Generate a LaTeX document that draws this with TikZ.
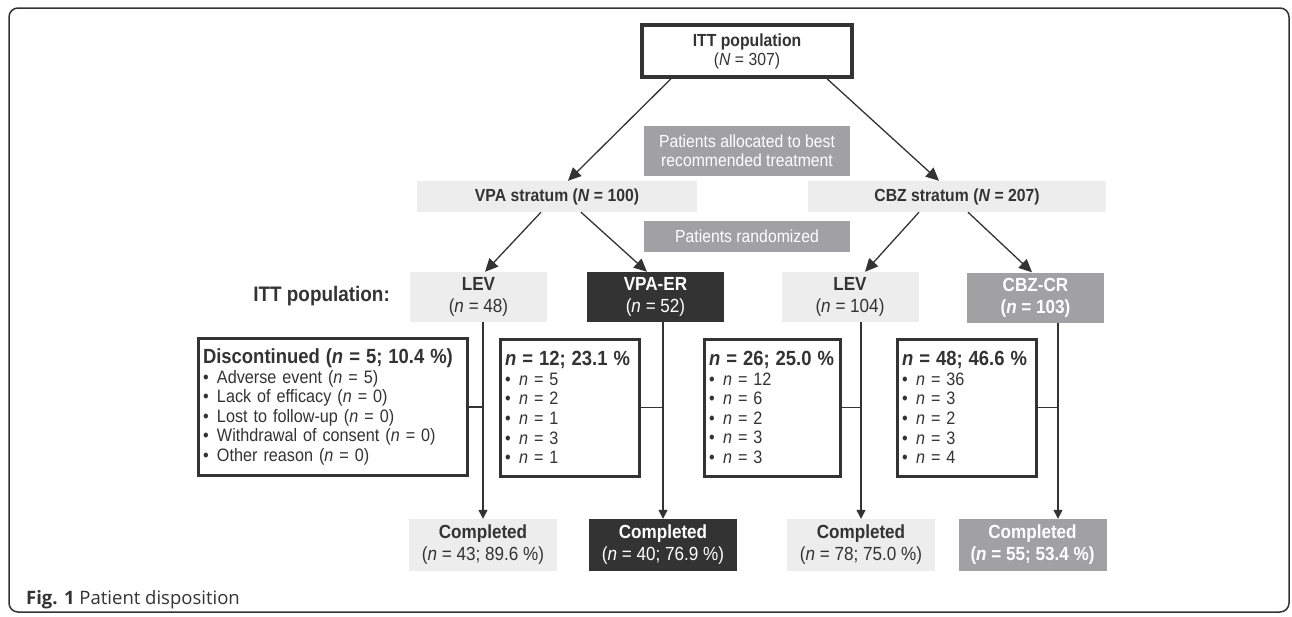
\documentclass[tikz,border=0pt]{standalone}
\usepackage{fontspec}
\setmainfont{Liberation Sans}[FakeStretch=0.9]
\newfontfamily\capfont{Open Sans}
\usetikzlibrary{arrows.meta}
\definecolor{dark}{HTML}{333333}
\definecolor{light}{HTML}{EDEDED}
\definecolor{medium}{HTML}{A1A1A4}
\newcommand{\nn}{\textit{n}}
\newcommand{\NN}{\textit{N}}
\newcommand{\bul}{\makebox[14pt][l]{\textbullet}}
\newcommand{\headline}[1]{\mbox{\fontsize{20.5}{22}\selectfont\bfseries #1}}
\tikzstyle{arm}=[minimum width=137pt, minimum height=50pt, align=center, inner sep=0pt, font=\fontsize{19}{22}\selectfont]
\tikzset{lev/.style={arm, fill=light, text=dark}}
\tikzset{vpa/.style={arm, fill=dark, text=white}}
\tikzset{cbz/.style={arm, fill=medium, text=white, font=\fontsize{19}{22}\selectfont\bfseries}}
\tikzset{done/.style={minimum width=148pt, minimum height=52pt}}
\tikzset{stratum/.style={fill=light, text=dark, minimum height=31pt, inner sep=0pt, font=\fontsize{17.5}{19}\selectfont\bfseries}}
\tikzset{note/.style={fill=medium, text=white, minimum width=206pt, inner sep=0pt, align=center, font=\fontsize{17.5}{19}\selectfont}}
\tikzset{reasons/.style={draw=dark, line width=3pt, fill=white, text=dark, align=left, inner xsep=5pt, inner ysep=0pt, minimum height=137pt, font=\fontsize{18}{19.6}\selectfont}}
\tikzset{split/.style={line width=1.3pt, draw=dark, -{Triangle[length=13pt,width=12pt]}}}
\tikzset{flow/.style={line width=1.3pt, draw=dark, -{Triangle[length=9pt,width=9pt]}}}
\tikzset{side/.style={line width=1.3pt, draw=dark}}

\begin{document}
\begin{tikzpicture}[x=1pt,y=-1pt]
  \useasboundingbox (0,0) rectangle (1292,616);
  \draw[dark, line width=1.5pt, rounded corners=9pt] (9,8) rectangle (1289,612);

  \draw (747,51) node[draw=dark, line width=3.5pt, fill=white, text=dark, minimum width=210pt, minimum height=52pt, inner sep=0pt, align=center, font=\fontsize{17.5}{19}\selectfont] (itt) {\textbf{ITT population}\\(\NN{} = 307)};
  \draw (747,151) node[note, minimum height=50pt] (alloc) {Patients allocated to best\\recommended treatment};
  \draw (557,196.5) node[stratum, minimum width=280pt] (vpas) {VPA stratum (\NN{} = 100)};
  \draw (957,196.5) node[stratum, minimum width=298pt] (cbzs) {CBZ stratum (\NN{} = 207)};
  \draw (747,236.5) node[note, minimum height=31pt] (rand) {Patients randomized};

  \draw (390,296) node[anchor=east, inner sep=0pt, text=dark, font=\fontsize{21}{22}\selectfont\bfseries] (label) {ITT population:};
  \draw (478.5,297) node[lev] (lev1) {\textbf{LEV}\\(\nn{} = 48)};
  \draw (655.5,297) node[vpa] (vpaer) {\textbf{VPA-ER}\\(\nn{} = 52)};
  \draw (850,297) node[lev] (lev2) {\textbf{LEV}\\(\nn{} = 104)};
  \draw (1035.5,297.5) node[cbz] (cbzcr) {CBZ-CR\\(\nn{} = 103)};

  \draw (332.5,407) node[reasons, text width=259pt] (disc) {\headline{Discontinued (\nn{} = 5; 10.4 \%)}\\
    \bul Adverse event (\nn{} = 5)\\
    \bul Lack of efficacy (\nn{} = 0)\\
    \bul Lost to follow-up (\nn{} = 0)\\
    \bul Withdrawal of consent (\nn{} = 0)\\
    \bul Other reason (\nn{} = 0)};
  \draw (569.5,407.5) node[reasons, text width=129pt] (b12) {\headline{\nn{} = 12; 23.1 \%}\\
    \bul\nn{} = 5\\ \bul\nn{} = 2\\ \bul\nn{} = 1\\ \bul\nn{} = 3\\ \bul\nn{} = 1};
  \draw (772,407.5) node[reasons, text width=126pt] (b26) {\headline{\nn{} = 26; 25.0 \%}\\
    \bul\nn{} = 12\\ \bul\nn{} = 6\\ \bul\nn{} = 2\\ \bul\nn{} = 3\\ \bul\nn{} = 3};
  \draw (966.5,407.5) node[reasons, text width=129pt] (b48) {\headline{\nn{} = 48; 46.6 \%}\\
    \bul\nn{} = 36\\ \bul\nn{} = 3\\ \bul\nn{} = 2\\ \bul\nn{} = 3\\ \bul\nn{} = 4};

  \draw (483,545) node[lev, done] (c1) {\textbf{Completed}\\(\nn{} = 43; 89.6 \%)};
  \draw (663,545) node[vpa, done] (c2) {\textbf{Completed}\\(\nn{} = 40; 76.9 \%)};
  \draw (861,545) node[lev, done] (c3) {\textbf{Completed}\\(\nn{} = 78; 75.0 \%)};
  \draw (1032.5,545) node[cbz, done] (c4) {Completed\\(\nn{} = 55; 53.4 \%)};

  %% Allocation and randomization
  \draw[split] ([xshift=-76pt]itt.south) -- ([xshift=11pt]vpas.north);
  \draw[split] ([xshift=80pt]itt.south) -- ([xshift=-18pt]cbzs.north);
  \draw[split] ([xshift=-16pt]vpas.south) -- ([xshift=6.5pt]lev1.north);
  \draw[split] ([xshift=24pt]vpas.south) -- ([xshift=-8.5pt]vpaer.north);
  \draw[split] ([xshift=-38pt]cbzs.south) -- ([xshift=15pt]lev2.north);
  \draw[split] ([xshift=11pt]cbzs.south) -- ([xshift=-3.5pt]cbzcr.north);

  %% Follow-up
  \coordinate (t1) at (lev1.south -| c1.north);
  \coordinate (t2) at (vpaer.south -| c2.north);
  \coordinate (t3) at (lev2.south -| c3.north);
  \coordinate (t4) at ([xshift=25.5pt]c4.north |- cbzcr.south);
  \draw[flow] (t1) -- (c1.north);
  \draw[flow] (t2) -- (c2.north);
  \draw[flow] (t3) -- (c3.north);
  \draw[flow] (t4) -- (t4 |- c4.north);
  \draw[side] (disc.east) -- (disc.east -| t1);
  \draw[side] (b12.east) -- (b12.east -| t2);
  \draw[side] (b26.east) -- (b26.east -| t3);
  \draw[side] (b48.east) -- (b48.east -| t4);

  %% Caption
  \draw (26,604) node[anchor=base west, inner sep=0pt, text=dark, font=\capfont\fontsize{18.5}{20}\selectfont] (caption) {\textbf{Fig. 1} Patient disposition};
\end{tikzpicture}
\end{document}
